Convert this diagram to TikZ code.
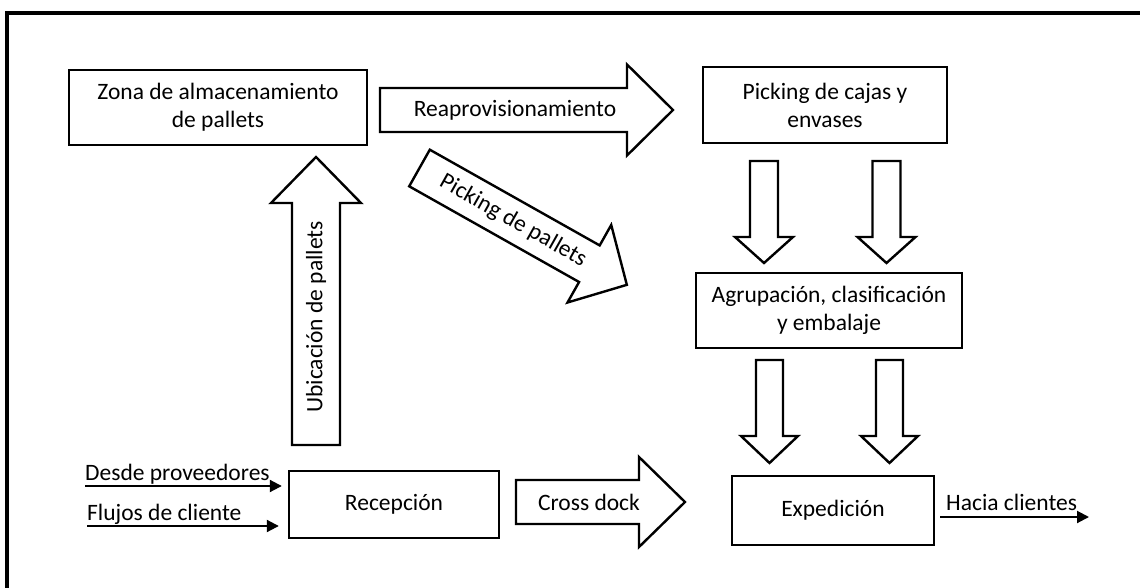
\documentclass[tikz,border=0pt]{standalone}
\usepackage{fontspec}
\setmainfont{Carlito}
\usetikzlibrary{arrows.meta}

\tikzset{
  % block arrow pointing along local +x: {length}{body half width}{head half width}{head length}
  pics/blockarrow/.style n args={4}{code={
    \draw[blk] (0,-#2) -- (#1-#4,-#2) -- (#1-#4,-#3) -- (#1,0)
               -- (#1-#4,#3) -- (#1-#4,#2) -- (0,#2) -- cycle;
  }},
}

\begin{document}
\begin{tikzpicture}[x=1pt,y=-1pt,
  every node/.style={font=\fontsize{23.5}{28}\selectfont},
  box/.style={draw, line width=2.4pt, inner sep=0pt, align=center},
  blk/.style={draw, line width=2.4pt, line join=miter, fill=white},
  feed/.style={line width=2pt, -{Triangle[length=12pt,width=12pt]}},
  lbl/.style={inner sep=0pt, anchor=base west},
  arrtext/.style={inner sep=0pt}
]
\useasboundingbox (0,0) rectangle (1140,588);
\clip (0,0) rectangle (1140,588);

% outer frame (only its top and left sides fall on the page)
\draw[line width=4pt] (7,13.5) rectangle (1180,620);

% process boxes
\node[box, minimum width=298pt, minimum height=75pt] (zona)  at (218,107.5) {Zona de almacenamiento\\de pallets};
\node[box, minimum width=244pt, minimum height=76pt] (pick)  at (825,105)   {Picking de cajas y\\envases};
\node[box, minimum width=266pt, minimum height=75pt] (agru)  at (829,310.5) {Agrupación, clasificación\\y embalaje};
\node[box, minimum width=210pt, minimum height=67pt] (recep) at (394,504.5) {Recepción};
\node[box, minimum width=202pt, minimum height=69pt] (expe)  at (833,510.5) {Expedición};

% block arrows
\pic at (380,110) {blockarrow={293}{22}{45.5}{46}};
\pic at (516,502) {blockarrow={169}{22}{45}{46}};
\pic[rotate=90] at (316,445) {blockarrow={288}{24}{45}{46}};
\pic[rotate=-29.4] at (419.5,168) {blockarrow={238}{21}{44.5}{43}};
\pic[rotate=-90] at (764,161)   {blockarrow={102}{14}{29}{26}};
\pic[rotate=-90] at (886.5,161) {blockarrow={102}{14}{29}{26}};
\pic[rotate=-90] at (769.5,360) {blockarrow={103}{13.5}{28.5}{27}};
\pic[rotate=-90] at (889.5,360) {blockarrow={103}{13.5}{28.5}{27}};

% labels on the block arrows
\node[arrtext] (reap) at (515,110) {Reaprovisionamiento};
\node[arrtext] (cross) at (589,502) {Cross dock};
\node[arrtext, rotate=90] (ubic) at (316,317) {Ubicación de pallets};
\node[arrtext, rotate=-29.4] (pickp) at (513,221) {Picking de pallets};

% incoming and outgoing flows
\node[lbl] (desdeT) at (85,480) {Desde proveedores};
\node[lbl] (flujT)  at (87,520) {Flujos de cliente};
\node[lbl] (haciaT) at (946,510) {Hacia clientes};

\coordinate (desdeS) at (85,486);
\coordinate (flujS)  at (87,526);
\coordinate (haciaE) at (1089,517);
\draw[feed, shorten >=6pt] (desdeS) -- (desdeS -| recep.west);
\draw[feed, shorten >=9pt] (flujS) -- (flujS -| recep.west);
\draw[feed, shorten <=5pt] (expe.east |- haciaE) -- (haciaE);
\end{tikzpicture}
\end{document}
